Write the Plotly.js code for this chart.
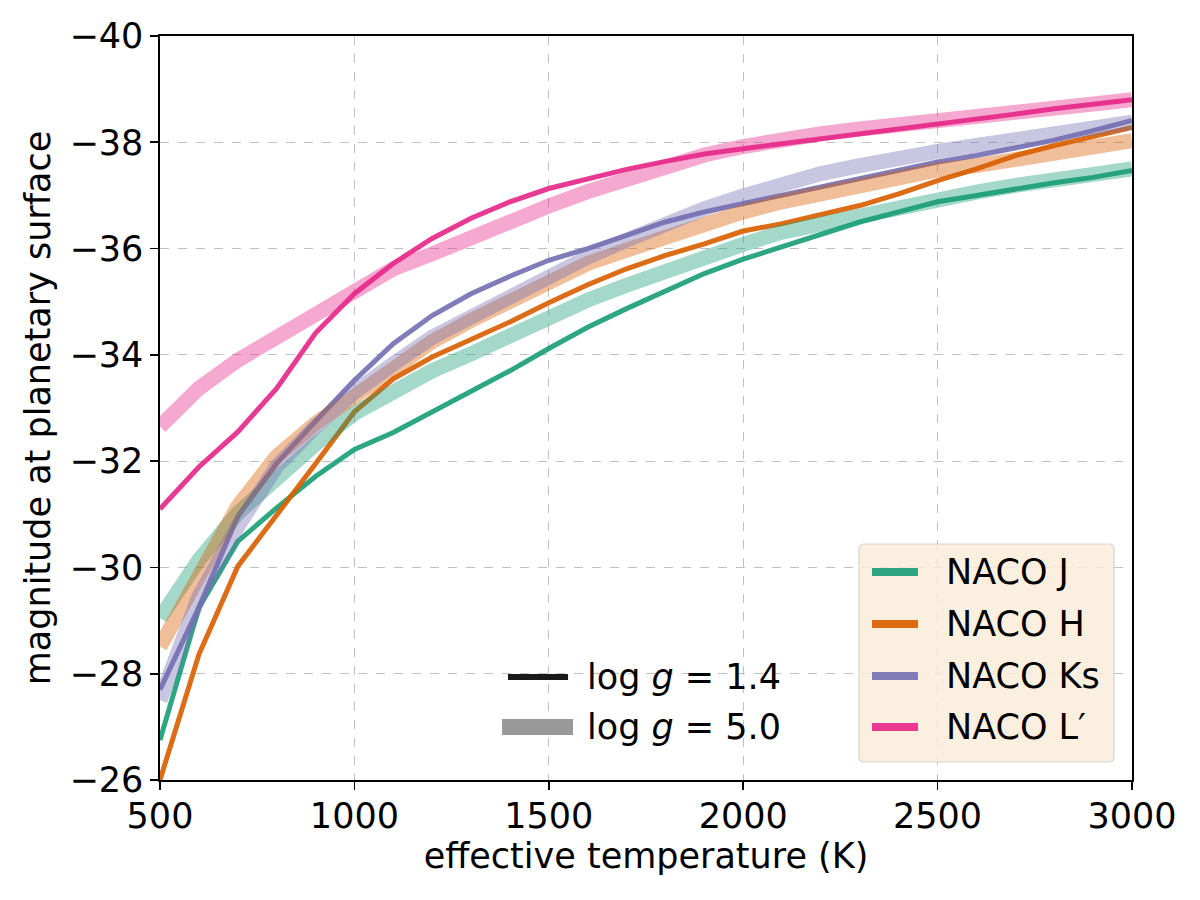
<!DOCTYPE html>
<html>
<head>
<meta charset="utf-8">
<script src="https://cdn.plot.ly/plotly-3.0.1.min.js"></script>
<style>
  html, body { margin: 0; padding: 0; background: #ffffff; }
  #chart { width: 1200px; height: 900px; }
</style>
</head>
<body>
<div id="chart"></div>
<script>
// Effective temperature grid (K)
const teff = [500, 600, 700, 800, 900, 1000, 1100, 1200, 1300, 1400, 1500, 1600, 1700,
              1800, 1900, 2000, 2100, 2200, 2300, 2400, 2500, 2600, 2700, 2800, 2900, 3000];

// Magnitudes at the planetary surface, log g = 1.4
const jLow  = [-26.75, -29.24, -30.49, -31.12, -31.71, -32.22, -32.54, -32.92, -33.30, -33.70, -34.12, -34.52, -34.87,
               -35.21, -35.53, -35.80, -36.03, -36.28, -36.50, -36.69, -36.88, -37.00, -37.13, -37.24, -37.34, -37.47];
const hLow  = [-26.00, -28.36, -30.02, -30.97, -31.95, -32.93, -33.55, -33.96, -34.28, -34.62, -34.98, -35.32, -35.62,
               -35.87, -36.09, -36.33, -36.47, -36.63, -36.81, -37.03, -37.28, -37.50, -37.75, -37.94, -38.11, -38.28];
const ksLow = [-27.70, -29.25, -30.96, -31.96, -32.75, -33.52, -34.21, -34.74, -35.15, -35.48, -35.78, -36.00, -36.25,
               -36.50, -36.69, -36.85, -37.00, -37.16, -37.31, -37.47, -37.63, -37.75, -37.89, -38.04, -38.22, -38.41];
const lpLow = [-31.10, -31.89, -32.55, -33.37, -34.41, -35.15, -35.72, -36.19, -36.57, -36.88, -37.13, -37.32, -37.49,
               -37.64, -37.78, -37.88, -37.97, -38.06, -38.16, -38.25, -38.33, -38.44, -38.53, -38.63, -38.72, -38.80];

// Magnitudes at the planetary surface, log g = 5.0
const jHigh  = [-29.05, -30.14, -31.02, -31.71, -32.32, -32.90, -33.33, -33.70, -34.02, -34.36, -34.72, -35.03, -35.31,
                -35.59, -35.84, -36.08, -36.31, -36.47, -36.63, -36.78, -36.94, -37.06, -37.19, -37.31, -37.41, -37.50];
const hHigh  = [-28.51, -29.83, -31.15, -32.09, -32.71, -33.22, -33.75, -34.25, -34.65, -35.02, -35.40, -35.72, -35.97,
                -36.22, -36.47, -36.69, -36.88, -37.03, -37.19, -37.34, -37.48, -37.56, -37.69, -37.78, -37.91, -38.03];
const ksHigh = [-27.50, -29.45, -30.77, -31.90, -32.65, -33.30, -33.83, -34.33, -34.71, -35.09, -35.50, -35.84, -36.16,
                -36.47, -36.75, -36.99, -37.22, -37.41, -37.56, -37.72, -37.83, -37.94, -38.06, -38.19, -38.28, -38.38];
const lpHigh = [-32.65, -33.37, -33.90, -34.34, -34.70, -35.22, -35.62, -35.90, -36.22, -36.50, -36.80, -37.07, -37.32,
                -37.57, -37.76, -37.92, -38.06, -38.16, -38.25, -38.34, -38.42, -38.49, -38.57, -38.65, -38.72, -38.80];

// Filter names and colours
const filters = ['NACO J', 'NACO H', 'NACO Ks', 'NACO L\u2032'];
const colors = [[27, 158, 119], [217, 95, 2], [117, 112, 179], [231, 41, 138]];
const lowSets = [jLow, hLow, ksLow, lpLow];
const highSets = [jHigh, hHigh, ksHigh, lpHigh];

// Surface gravity labels
const gravityLabels = ['log <i>g</i> = 1.4', 'log <i>g</i> = 5.0'];

const FONT = 'DejaVu Sans, sans-serif';
const FS = 35;
const rgba = (c, a) => `rgba(${c[0]},${c[1]},${c[2]},${a})`;

const traces = [];

// Low-gravity curves first, thick translucent high-gravity curves on top
lowSets.forEach((ys, i) => {
  traces.push({
    x: teff, y: ys, type: 'scatter', mode: 'lines', name: filters[i] + ' (log g = 1.4)',
    line: { color: rgba(colors[i], 0.92), width: 5 },
    showlegend: false, hoverinfo: 'skip'
  });
});
highSets.forEach((ys, i) => {
  traces.push({
    x: teff, y: ys, type: 'scatter', mode: 'lines', name: filters[i] + ' (log g = 5.0)',
    line: { color: rgba(colors[i], 0.4), width: 15 },
    showlegend: false, hoverinfo: 'skip'
  });
});

// Legend keys, placed in paper coordinates of the plot area
const shapes = [];
const annotations = [];

// Filter key: rounded translucent box with coloured handles
const box = { x0: 0.7191, x1: 0.9815, y0: 0.0242, y1: 0.3172 };
const rx = 5 / 972, ry = 5 / 744;
shapes.push({
  type: 'path', xref: 'paper', yref: 'paper', layer: 'above',
  path: `M ${box.x0 + rx},${box.y0} L ${box.x1 - rx},${box.y0} Q ${box.x1},${box.y0} ${box.x1},${box.y0 + ry} ` +
        `L ${box.x1},${box.y1 - ry} Q ${box.x1},${box.y1} ${box.x1 - rx},${box.y1} ` +
        `L ${box.x0 + rx},${box.y1} Q ${box.x0},${box.y1} ${box.x0},${box.y1 - ry} ` +
        `L ${box.x0},${box.y0 + ry} Q ${box.x0},${box.y0} ${box.x0 + rx},${box.y0} Z`,
  fillcolor: 'rgba(250,235,215,0.8)',
  line: { color: 'rgba(204,204,204,0.8)', width: 1.2 }
});
const keyRows = [0.2796, 0.2097, 0.1398, 0.0712];
filters.forEach((name, i) => {
  shapes.push({
    type: 'line', xref: 'paper', yref: 'paper', layer: 'above',
    x0: 0.7325, x1: 0.7798, y0: keyRows[i], y1: keyRows[i],
    line: { color: rgba(colors[i], 0.92), width: 8 }
  });
  annotations.push({
    xref: 'paper', yref: 'paper', x: 0.8066, y: keyRows[i],
    xanchor: 'left', yanchor: 'middle', showarrow: false,
    text: name, font: { family: FONT, size: FS, color: '#000000' }
  });
});

// Gravity key: thin dark line and thick grey line
const gRows = [0.1384, 0.0712];
shapes.push({
  type: 'line', xref: 'paper', yref: 'paper', layer: 'above',
  x0: 0.3580, x1: 0.4198, y0: gRows[0], y1: gRows[0],
  line: { color: '#1a1a1a', width: 6 }
});
shapes.push({
  type: 'line', xref: 'paper', yref: 'paper', layer: 'above',
  x0: 0.3519, x1: 0.4249, y0: gRows[1], y1: gRows[1],
  line: { color: '#999999', width: 16 }
});
gravityLabels.forEach((label, i) => {
  annotations.push({
    xref: 'paper', yref: 'paper', x: 0.4372, y: gRows[i],
    xanchor: 'left', yanchor: 'middle', showarrow: false,
    text: label, font: { family: FONT, size: FS, color: '#000000' }
  });
});

const axisCommon = {
  showline: true, linecolor: '#000000', linewidth: 1.6, mirror: true,
  ticks: 'outside', ticklen: 8, tickwidth: 1.6, tickcolor: '#000000',
  showgrid: true, gridcolor: '#b0b0b0', gridwidth: 0.8, griddash: 'dash',
  zeroline: false,
  tickfont: { family: FONT, size: FS, color: '#000000' }
};

const layout = {
  width: 1200, height: 900,
  paper_bgcolor: '#ffffff', plot_bgcolor: '#ffffff',
  margin: { l: 160, r: 68, t: 36, b: 120 },
  font: { family: FONT, size: FS, color: '#000000' },
  xaxis: Object.assign({}, axisCommon, {
    range: [500, 3000],
    tickvals: [500, 1000, 1500, 2000, 2500, 3000],
    ticklabelstandoff: -4,
    title: { text: 'effective temperature (K)', font: { family: FONT, size: FS }, standoff: 8 }
  }),
  yaxis: Object.assign({}, axisCommon, {
    range: [-26, -40],
    tickvals: [-26, -28, -30, -32, -34, -36, -38, -40],
    title: { text: 'magnitude at planetary surface', font: { family: FONT, size: FS }, standoff: 8 }
  }),
  shapes: shapes,
  annotations: annotations,
  showlegend: false
};

Plotly.newPlot('chart', traces, layout, { staticPlot: true, displayModeBar: false });
</script>
</body>
</html>
